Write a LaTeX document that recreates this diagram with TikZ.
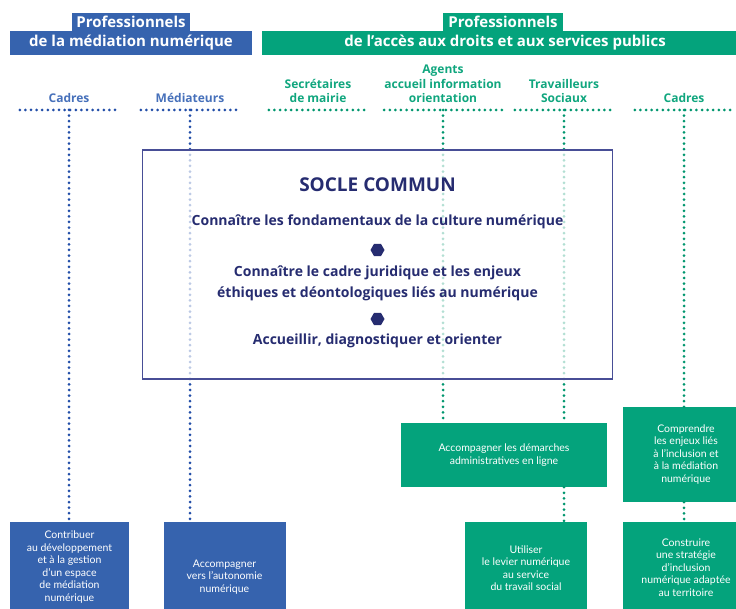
\documentclass[tikz,border=0pt]{standalone}
\usepackage{fontspec}
\setmainfont{Open Sans}
\newfontfamily\boxfont{Lato}
\usetikzlibrary{shapes.geometric, positioning}
\definecolor{medblue}{RGB}{54,99,174}
\definecolor{lblblue}{RGB}{70,112,186}
\definecolor{dotblue}{RGB}{34,78,168}
\definecolor{accgreen}{RGB}{4,163,124}
\definecolor{lblgreen}{RGB}{16,166,126}
\definecolor{dotgreen}{RGB}{0,150,110}
\definecolor{soclenavy}{RGB}{38,44,112}
\definecolor{socleline}{RGB}{72,78,150}

\begin{document}
\begin{tikzpicture}[
    x=1pt, y=-1pt,
    tabbox/.style={rectangle, inner sep=0pt, minimum height=18pt, text=white,
                   font=\bfseries\fontsize{15}{17}\selectfont},
    barbox/.style={rectangle, inner sep=0pt, minimum height=24pt, text=white,
                   font=\bfseries\fontsize{15}{17}\selectfont},
    collbl/.style={anchor=south, align=center, minimum width=98pt,
                   inner xsep=0pt, inner ysep=7pt,
                   font=\bfseries\fontsize{12}{14.5}\selectfont},
    skillbox/.style={rectangle, align=center, text=white, inner sep=2pt,
                     font=\boxfont\fontsize{10.5}{12.5}\selectfont},
    soclebox/.style={rectangle, draw=socleline, line width=1.4pt,
                     fill=white, fill opacity=0.7,
                     minimum width=470pt, minimum height=229pt},
    socletxt/.style={align=center, text=soclenavy,
                     font=\bfseries\fontsize{14}{21}\selectfont},
    hexdot/.style={regular polygon, regular polygon sides=6, fill=soclenavy,
                   minimum size=14pt, inner sep=0pt},
    dotline/.style={line width=3pt, line cap=round,
                    dash pattern=on 0pt off 5.6pt}
]
\clip (0,0) rectangle (736,609);

%% ── Headers ──
\node[tabbox, fill=medblue, minimum width=118pt]  (tabMed) at (131,22) {Professionnels};
\node[barbox, fill=medblue, minimum width=242pt]  (barMed) at (131,43) {de la médiation numérique};
\node[tabbox, fill=accgreen, minimum width=120pt] (tabAcc) at (503,22) {Professionnels};
\node[barbox, fill=accgreen, minimum width=486pt] (barAcc) at (505,43) {de l’accès aux droits et aux services publics};

%% ── Column labels ──
\node[collbl, text=lblblue]  (cadMed)  at (69,110)  {Cadres};
\node[collbl, text=lblblue]  (mediat)  at (190,110) {Médiateurs};
\node[collbl, text=lblgreen] (secret)  at (318,110) {Secrétaires\\de mairie};
\node[collbl, text=lblgreen] (agents)  at (443,110) {Agents\\accueil information\\orientation};
\node[collbl, text=lblgreen] (travail) at (564,110) {Travailleurs\\Sociaux};
\node[collbl, text=lblgreen] (cadAcc)  at (684,110) {Cadres};

%% ── Skill boxes ──
\node[skillbox, fill=medblue, minimum width=119pt, minimum height=90pt]   (contrib) at (69.5,567)
    {Contribuer\\au développement\\et à la gestion\\d’un espace\\de médiation\\numérique};
\node[skillbox, fill=medblue, minimum width=122pt, minimum height=110pt]  (autono)  at (224.5,577)
    {Accompagner\\vers l’autonomie\\numérique};
\node[skillbox, fill=accgreen, minimum width=206pt, minimum height=64pt]  (demarch) at (504,455)
    {Accompagner les démarches\\administratives en ligne};
\node[skillbox, fill=accgreen, minimum width=126pt, minimum height=95pt]  (enjeux)  at (686,454.5)
    {Comprendre\\les enjeux liés\\à l’inclusion et\\à la médiation\\numérique};
\node[skillbox, fill=accgreen, minimum width=122pt, minimum height=92pt]  (levier)  at (526,568)
    {Utiliser\\le levier numérique\\au service\\du travail social};
\node[skillbox, fill=accgreen, minimum width=126pt, minimum height=91pt]  (strat)   at (686,567.5)
    {Construire\\une stratégie\\d’inclusion\\numérique adaptée\\au territoire};

%% ── Dotted rules under the labels ──
\foreach \col in {cadMed, mediat}
    \draw[dotline, dotblue] (\col.south west) -- (\col.south east);
\foreach \col in {secret, agents, travail, cadAcc}
    \draw[dotline, dotgreen] (\col.south west) -- (\col.south east);

%% ── Dotted links ──
\draw[dotline, dotblue]  (cadMed.south)  -- (cadMed.south |- contrib.north);
\draw[dotline, dotblue]  (mediat.south)  -- (mediat.south |- autono.north);
\draw[dotline, dotgreen] (agents.south)  -- (agents.south |- demarch.north);
\draw[dotline, dotgreen] (travail.south) -- (travail.south |- demarch.north);
\draw[dotline, dotgreen] (travail.south |- demarch.south) -- (travail.south |- levier.north);
\draw[dotline, dotgreen] (cadAcc.south)  -- (cadAcc.south |- enjeux.north);
\draw[dotline, dotgreen] (cadAcc.south |- enjeux.south) -- (cadAcc.south |- strat.north);

%% ── Socle commun ──
\node[soclebox] (socle) at (377.5,264.5) {};
\node[socletxt, font=\bfseries\fontsize{19}{21}\selectfont] (socT) at (377.5,185) {SOCLE COMMUN};
\node[socletxt] (skA)  at (377.5,222)   {Connaître les fondamentaux de la culture numérique};
\node[hexdot]   (hexA) at (377.5,250)   {};
\node[socletxt] (skB)  at (377.5,283)   {Connaître le cadre juridique et les enjeux\\éthiques et déontologiques liés au numérique};
\node[hexdot]   (hexB) at (377.5,319)   {};
\node[socletxt] (skC)  at (377.5,341)   {Accueillir, diagnostiquer et orienter};

\end{tikzpicture}
\end{document}
